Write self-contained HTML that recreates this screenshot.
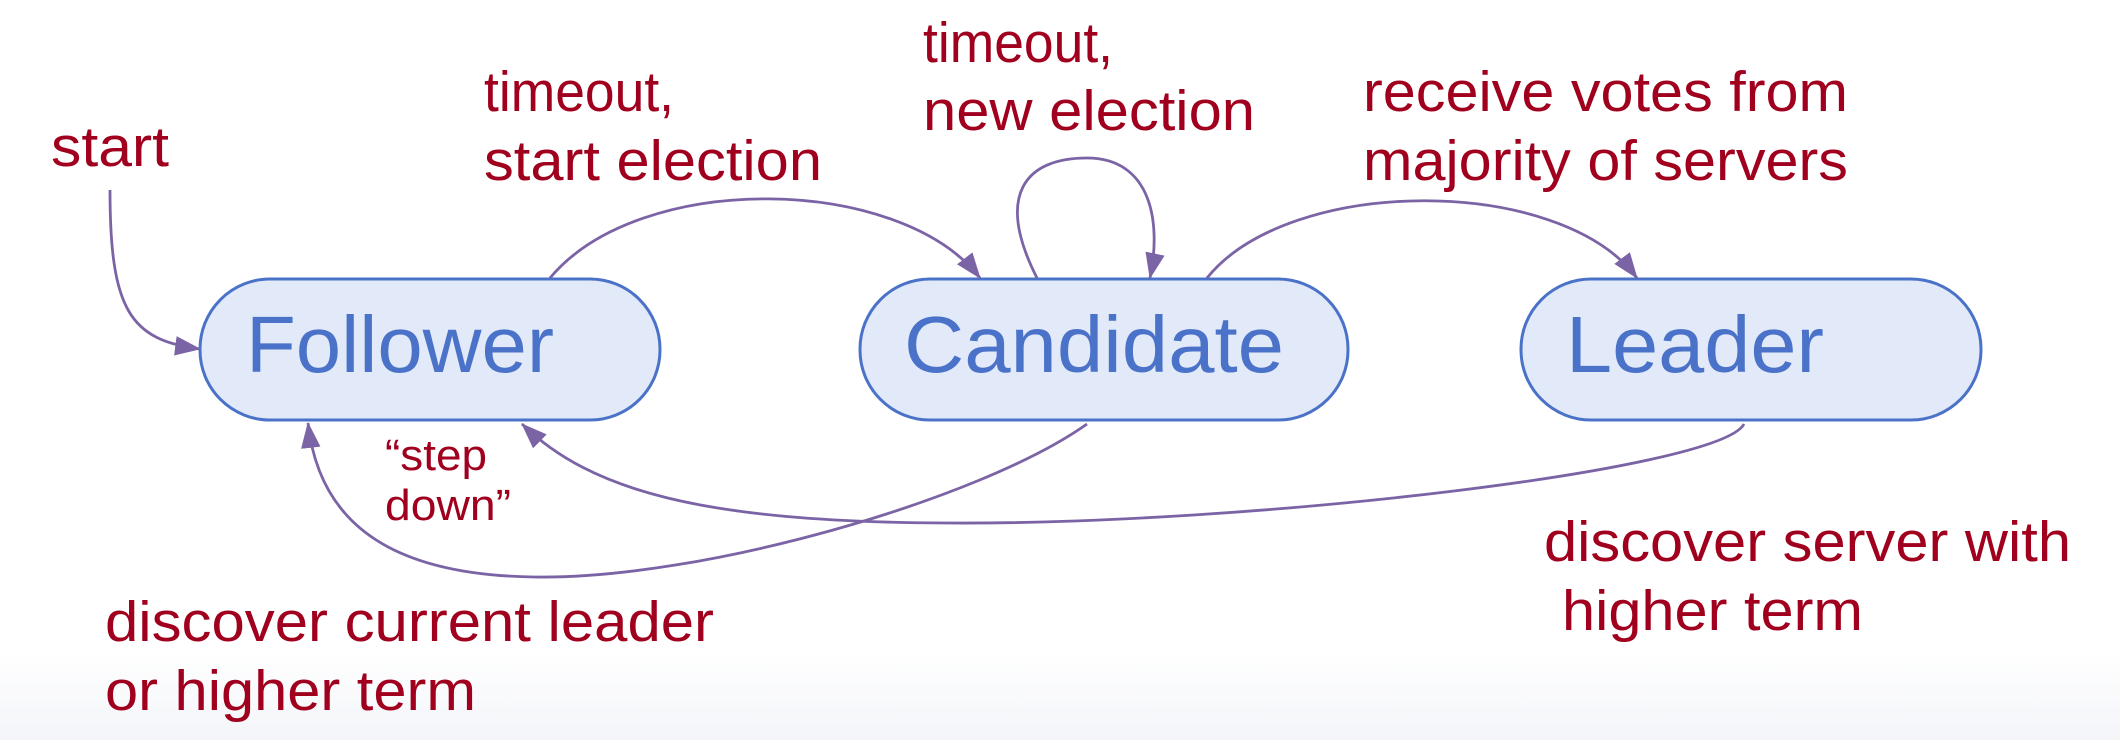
<!DOCTYPE html>
<html><head><meta charset="utf-8"><style>
html,body{margin:0;padding:0;}
body{width:2120px;height:740px;overflow:hidden;background:linear-gradient(to bottom,#ffffff 0%,#ffffff 88%,#f3f5f9 100%);}
svg{display:block;}
.l{font-family:"Liberation Sans",Arial,sans-serif;fill:#a0001e;font-size:57px;}
.n{font-family:"Liberation Sans",Arial,sans-serif;fill:#4a72c8;font-size:80px;}
</style></head><body>
<svg width="2120" height="740" viewBox="0 0 2120 740" xmlns="http://www.w3.org/2000/svg">
<defs>
<marker id="b" viewBox="0 0 24 18" refX="23" refY="9" markerWidth="26" markerHeight="20" orient="auto" markerUnits="userSpaceOnUse">
<path d="M0,0 L24,9 L0,18 Z" fill="#7b64a5"/>
</marker>
</defs>
<g fill="#e2e9f8" stroke="#4a72c8" stroke-width="3">
<rect x="200" y="279" width="460" height="141" rx="70" ry="70"/>
<rect x="860" y="279" width="488" height="141" rx="70" ry="70"/>
<rect x="1521" y="279" width="460" height="141" rx="70" ry="70"/>
</g>
<text class="n" x="246" y="372" textLength="308" lengthAdjust="spacingAndGlyphs">Follower</text>
<text class="n" x="904" y="372" textLength="380" lengthAdjust="spacingAndGlyphs">Candidate</text>
<text class="n" x="1566" y="372" textLength="258" lengthAdjust="spacingAndGlyphs">Leader</text>
<g fill="none" stroke="#7b64a5" stroke-width="2.8" marker-end="url(#b)">
<path d="M110 190 C110 310 130 340 200 349"/>
<path d="M550 278 C640 170 900 175 980 278"/>
<path d="M1037 278 C995 195 1025 158 1087 158 C1150 158 1162 220 1150 278"/>
<path d="M1207 278 C1290 175 1560 175 1637 278"/>
<path d="M1087 424 C980 500 700 580 534 577 C400 575 320 530 308 423"/>
<path d="M1744 424 C1720 470 1250 525 946 523 C700 522 590 490 522 424"/>
</g>
<text class="l" x="51" y="166" textLength="118" lengthAdjust="spacingAndGlyphs">start</text>
<text class="l" x="484" y="111" textLength="190" lengthAdjust="spacingAndGlyphs">timeout,</text>
<text class="l" x="484" y="180" textLength="338" lengthAdjust="spacingAndGlyphs">start election</text>
<text class="l" x="923" y="62" textLength="190" lengthAdjust="spacingAndGlyphs">timeout,</text>
<text class="l" x="923" y="130" textLength="332" lengthAdjust="spacingAndGlyphs">new election</text>
<text class="l" x="1363" y="111" textLength="485" lengthAdjust="spacingAndGlyphs">receive votes from</text>
<text class="l" x="1363" y="180" textLength="485" lengthAdjust="spacingAndGlyphs">majority of servers</text>
<text class="l" x="385" y="470" style="font-size:44px" textLength="102" lengthAdjust="spacingAndGlyphs">“step</text>
<text class="l" x="385" y="520" style="font-size:44px" textLength="126" lengthAdjust="spacingAndGlyphs">down”</text>
<text class="l" x="105" y="641" textLength="609" lengthAdjust="spacingAndGlyphs">discover current leader</text>
<text class="l" x="105" y="710" textLength="371" lengthAdjust="spacingAndGlyphs">or higher term</text>
<text class="l" x="1544" y="561" textLength="527" lengthAdjust="spacingAndGlyphs">discover server with</text>
<text class="l" x="1562" y="630" textLength="301" lengthAdjust="spacingAndGlyphs">higher term</text>
</svg>
</body></html>
